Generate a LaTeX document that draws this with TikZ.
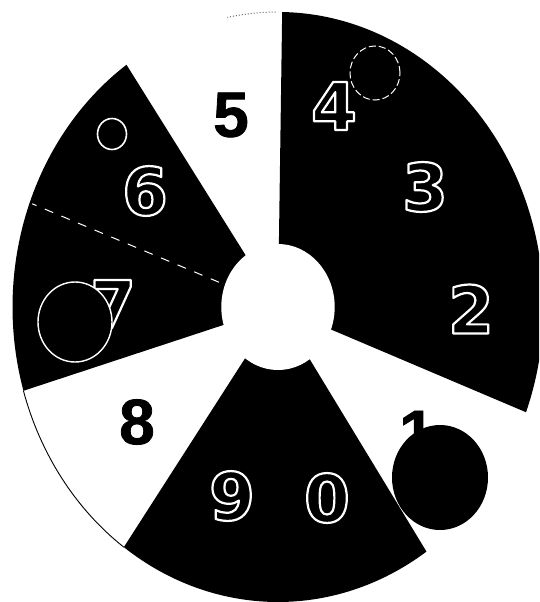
\documentclass[tikz,border=0pt]{standalone}
\usepackage{fontspec}
\setmainfont{Liberation Sans}
\newfontfamily\heavyfont[FakeBold=1.2]{Liberation Sans Bold}
\newfontfamily\roundfont{DejaVu Sans Bold}
\newcommand\outlinedigit[1]{\special{pdf:literal direct 1 1 1 RG 2.2 w 1 j 2 Tr}#1\special{pdf:literal direct 0 Tr}}
\begin{document}
\begin{tikzpicture}[x=1pt,y=1pt,
  digit/.style={font=\fontsize{66}{66}\selectfont\roundfont, text=black, inner sep=0pt},
  heavydigit/.style={font=\fontsize{64}{64}\selectfont\heavyfont, text=black, inner sep=0pt},
  ring/.style={white, line width=1.6pt},
  sector/.style={black}]
\useasboundingbox (0,0) rectangle (539,-602);
\clip (0,0) rectangle (539,-602);
\fill[white] (0,0) rectangle (539,-602);
\begin{scope}[shift={(278,-307)}, xscale=0.9]
  \fill[sector] (0,0) -- (-20.9:295) arc[start angle=-20.9, end angle=89.1, radius=295] -- cycle;
  \fill[sector] (0,0) -- (234.5:295) arc[start angle=234.5, end angle=304, radius=295] -- cycle;
  \fill[sector] (0,0) -- (124.8:295) arc[start angle=124.8, end angle=196.5, radius=295] -- cycle;
  \draw[white, line width=1pt, dash pattern=on 9pt off 9pt] (159.3:70) -- (159.3:292);
  \draw[black, line width=0.9pt] (196.5:295) arc[start angle=196.5, end angle=234.5, radius=295];
  \draw[black!60, line width=1pt, dotted] (90.5:295) arc[start angle=90.5, end angle=101, radius=295];
  \fill[white] (0,0) circle[radius=63];
\end{scope}
% outlined digits on black
\node[digit] (d4) at (334,-106) {\outlinedigit{4}};
\node[digit] (d3) at (425,-187) {\outlinedigit{3}};
\node[digit] (d2) at (471,-309) {\outlinedigit{2}};
\node[digit] (d6) at (145,-191) {\outlinedigit{6}};
\node[digit] (d7) at (113,-304) {\outlinedigit{7}};
\node[digit] (d9) at (232,-496) {\outlinedigit{9}};
\node[digit] (d0) at (327,-498) {\outlinedigit{0}};
% black digits on white
\node[heavydigit] (d5) at (231,-115) {5};
\node[heavydigit] (d8) at (137,-422) {8};
\node[heavydigit] (d1) at (417,-433) {1};
% circles
\fill[black] (440,-477.5) ellipse[x radius=48, y radius=52.5];
\filldraw[fill=black, draw=white, line width=1.4pt] (75,-322) ellipse[x radius=37, y radius=40];
\draw[ring] (112,-134) ellipse[x radius=14.5, y radius=15.5];
\draw[ring, line width=1pt, dash pattern=on 7pt off 3pt] (375,-73) ellipse[x radius=25, y radius=27];
\end{tikzpicture}
\end{document}
